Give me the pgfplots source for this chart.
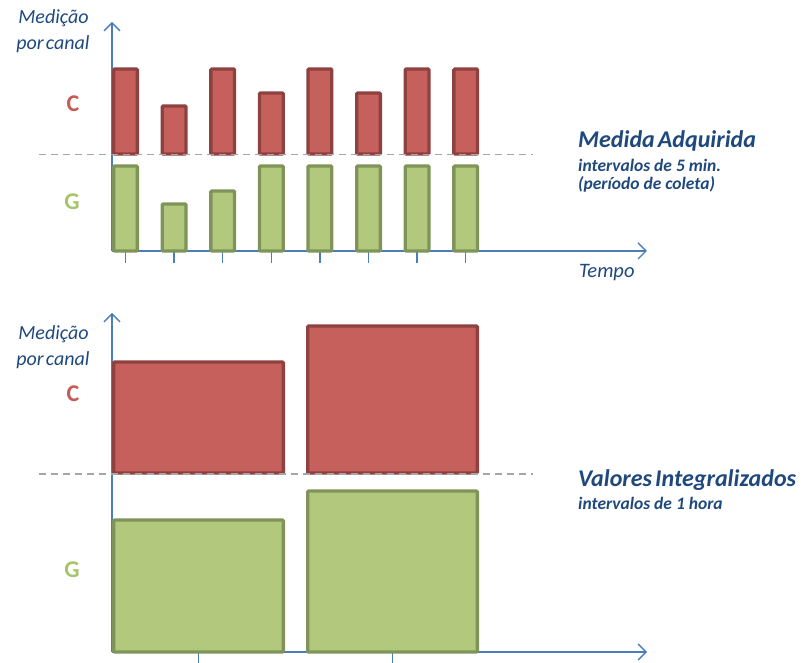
\documentclass[border=0pt]{standalone}
\usepackage{pgfplots}
\pgfplotsset{compat=1.18}
\usepackage{fontspec}
\setmainfont{Carlito}
\usetikzlibrary{arrows.meta}
\definecolor{axisblue}{HTML}{4A7EBB}
\definecolor{txtblue}{HTML}{1F497D}
\definecolor{rfill}{HTML}{C5605C}
\definecolor{rdraw}{HTML}{8E4240}
\definecolor{gfill}{HTML}{B2C97D}
\definecolor{gdraw}{HTML}{7F9458}
\definecolor{ctext}{HTML}{C65A55}
\definecolor{gtext}{HTML}{A6C46C}
\definecolor{dashgray}{HTML}{A6A6A6}
\pgfplotsset{
  diag/.style={
    anchor=south west,
    y=1pt,
    ymin=0,
    axis lines=left,
    axis line style={draw=axisblue, line width=1.4pt},
    every outer x axis line/.append style={-{Straight Barb[length=8pt,width=16pt,line width=1.4pt]}},
    every outer y axis line/.append style={-{Straight Barb[length=8pt,width=16pt,line width=1.4pt]}},
    ytick=\empty,
    xticklabels={},
    tick align=outside,
    major tick length=12pt,
    tick style={draw=axisblue, line width=1.4pt},
    ybar stacked,
    clip=false,
    every axis plot/.append style={line width=3.3pt, rounded corners=1pt},
  },
  dashline/.style={stack plots=false, sharp plot, draw=dashgray, line width=1.5pt,
    dash pattern=on 7pt off 5pt, rounded corners=0pt, forget plot},
}
\begin{document}
\begin{tikzpicture}
\path[use as bounding box] (0,0) rectangle (804pt,663pt);

% ---------- top panel: 5-minute acquisitions ----------
\begin{axis}[diag,
  at={(112pt,412pt)},
  x=48.6pt, xmin=0.722, xmax=11.73, ymax=229,
  xtick={1,2,3,4,5,6,7,8},
  bar width=23.7pt,
]
\addplot[dashline] coordinates {(-0.78,96.5) (9.385,96.5)};
% G channel
\addplot[fill=gfill, draw=gdraw] coordinates {(1,85) (2,47) (3,60) (4,85) (5,85) (6,85) (7,85) (8,85)};
% gap (invisible)
\addplot[fill=none, draw=none] coordinates {(1,12) (2,50) (3,37) (4,12) (5,12) (6,12) (7,12) (8,12)};
% C channel
\addplot[fill=rfill, draw=rdraw] coordinates {(1,85) (2,48) (3,85) (4,61) (5,85) (6,61) (7,85) (8,85)};
\end{axis}

% ---------- bottom panel: hourly integrated ----------
\begin{axis}[diag,
  at={(112pt,11pt)},
  x=194pt, xmin=0.554, xmax=3.312, ymax=339,
  xtick={1,2},
  bar width=169.7pt,
]
\addplot[dashline] coordinates {(0.178,178) (2.724,178)};
\addplot[fill=gfill, draw=gdraw] coordinates {(1,132) (2,161)};
\addplot[fill=none, draw=none] coordinates {(1,47) (2,18)};
\addplot[fill=rfill, draw=rdraw] coordinates {(1,111) (2,147)};
\end{axis}

% ---------- text ----------
\begin{scope}[every node/.style={inner sep=0pt}]
\node[anchor=base, text=txtblue, font=\fontsize{20}{22}\selectfont\itshape] at (53.5pt,639pt) {Medição};
\node[anchor=base, text=txtblue, font=\fontsize{20}{22}\selectfont\itshape] at (53pt,613pt) {por\hspace{-0.12em} canal};
\node[anchor=base, text=txtblue, font=\fontsize{20}{22}\selectfont\itshape] at (53.5pt,323pt) {Medição};
\node[anchor=base, text=txtblue, font=\fontsize{20}{22}\selectfont\itshape] at (53pt,297pt) {por\hspace{-0.12em} canal};
\node[anchor=base, text=ctext, font=\fontsize{24}{26}\selectfont\bfseries] at (73pt,551pt) {C};
\node[anchor=base, text=gtext, font=\fontsize{24}{26}\selectfont\bfseries] at (72pt,453pt) {G};
\node[anchor=base, text=ctext, font=\fontsize{24}{26}\selectfont\bfseries] at (73pt,261pt) {C};
\node[anchor=base, text=gtext, font=\fontsize{24}{26}\selectfont\bfseries] at (72pt,85pt) {G};
\node[anchor=base west, text=txtblue, font=\fontsize{24}{26}\selectfont\bfseries\itshape] at (578pt,515pt) {Medida\hspace{-0.1em} Adquirida};
\node[anchor=base west, text=txtblue, font=\fontsize{17.5}{19}\selectfont\bfseries\itshape] at (578pt,491pt) {intervalos de 5 min.};
\node[anchor=base west, text=txtblue, font=\fontsize{17.5}{19}\selectfont\bfseries\itshape] at (578pt,473pt) {(período de coleta)};
\node[anchor=base west, text=txtblue, font=\fontsize{20.5}{22}\selectfont\itshape] at (579pt,385pt) {Tempo};
\node[anchor=base west, text=txtblue, font=\fontsize{24}{26}\selectfont\bfseries\itshape] at (578pt,176pt) {Valores\hspace{-0.1em} Integralizados};
\node[anchor=base west, text=txtblue, font=\fontsize{17.5}{19}\selectfont\bfseries\itshape] at (578pt,153pt) {intervalos de 1 hora};
\end{scope}
\end{tikzpicture}
\end{document}
